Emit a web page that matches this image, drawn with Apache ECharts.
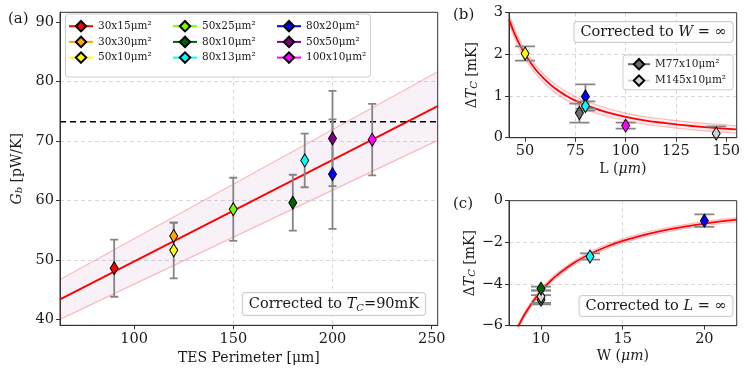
<!DOCTYPE html>
<html><head><meta charset="utf-8">
<script src="https://cdn.jsdelivr.net/npm/echarts@6/dist/echarts.min.js"></script>
<style>html,body{margin:0;padding:0;background:#fff}#chart{width:748px;height:373px}</style>
</head><body><div id="chart"></div>
<script>
// ---------- panel (a) data ----------
const devices = ['30x15μm²','30x30μm²','50x10μm²','50x25μm²','80x10μm²','80x13μm²','80x20μm²','50x50μm²','100x10μm²'];
const perimeter = [90, 120, 120, 150, 180, 186, 200, 200, 220];
const gb = [48.6, 54.0, 51.6, 58.5, 59.6, 66.7, 64.4, 70.4, 70.2];
const gbErr = [4.8, 2.2, 4.7, 5.3, 4.7, 4.5, 9.2, 8.0, 6.0];
const fitP = [62.7, 253];
const fitG = [43.36, 75.83];
const fitGUpper = [46.7, 81.6];
const fitGLower = [40.0, 70.07];
const gbLimit = 73.2;
const aRangeX = [62.7, 253];
const aRangeY = [39, 91.6];
const aTicksX = [100, 150, 200, 250];
const aTicksY = [40, 50, 60, 70, 80, 90];

// ---------- panel (b) data ----------
const bNames = ['M77x10μm²', '50x10μm²', '80x20μm²', '80x13μm²', '100x10μm²', 'M145x10μm²'];
const bL = [77, 50, 80, 80, 100, 145];
const bDT = [0.59, 2.02, 0.99, 0.76, 0.29, 0.10];
const bErr = [0.23, 0.17, 0.29, 0.11, 0.07, 0.17];
const bCurveL = [42, 45, 48, 50, 55, 60, 65, 70, 75, 80, 90, 100, 110, 120, 135, 155];
const bCurveT = [2.84, 2.47, 2.17, 2.0, 1.65, 1.39, 1.18, 1.02, 0.89, 0.78, 0.62, 0.5, 0.41, 0.35, 0.27, 0.2];
const bCurveUpper = [2.95, 2.58, 2.28, 2.11, 1.75, 1.49, 1.28, 1.12, 0.99, 0.88, 0.72, 0.59, 0.5, 0.44, 0.36, 0.285];
const bCurveLower = [2.73, 2.36, 2.06, 1.9, 1.55, 1.29, 1.08, 0.92, 0.79, 0.68, 0.52, 0.41, 0.32, 0.26, 0.18, 0.11];
const bRangeX = [42, 155.2];
const bRangeY = [0, 3.0001];
const bTicksX = [50, 75, 100, 125, 150];
const bTicksY = [0, 1, 2, 3];

// ---------- panel (c) data ----------
const cNames = ['M77x10μm²', 'M145x10μm²', '80x10μm²', '80x13μm²', '80x20μm²'];
const cW = [10, 10, 10, 13, 20];
const cDT = [-4.75, -4.6, -4.22, -2.68, -0.96];
const cErr = [0.22, 0.3, 0.1, 0.15, 0.3];
const cCurveW = [8.4, 8.63, 9, 9.5, 10, 10.5, 11, 12, 13, 14, 15, 16.5, 18, 20, 22];
const cCurveT = [-6.35, -6.0, -5.45, -4.85, -4.33, -3.92, -3.56, -2.99, -2.56, -2.21, -1.93, -1.6, -1.35, -1.1, -0.91];
const cCurveUpper = [-6.25, -5.9, -5.35, -4.75, -4.23, -3.82, -3.46, -2.89, -2.46, -2.11, -1.83, -1.5, -1.25, -1.0, -0.81];
const cCurveLower = [-6.45, -6.1, -5.55, -4.95, -4.43, -4.02, -3.66, -3.09, -2.66, -2.31, -2.03, -1.7, -1.45, -1.2, -1.01];
const cRangeX = [8.04, 21.98];
const cRangeY = [-6, 0];
const cTicksX = [10, 15, 20];
const cTicksY = [-6, -4, -2, 0];

// ---------- layout & styles ----------
const gridBoxes = [
  {left: 60, top: 12.3, width: 377.7, height: 313},
  {left: 509, top: 12.7, width: 227.7, height: 125},
  {left: 509, top: 200.7, width: 227.7, height: 125}
];
const colorOf = {
  '30x15μm²': '#ff0000', '30x30μm²': '#ffa500', '50x10μm²': '#ffff00',
  '50x25μm²': '#7cfc00', '80x10μm²': '#006400', '80x13μm²': '#00ffff',
  '80x20μm²': '#0000ff', '50x50μm²': '#800080', '100x10μm²': '#ff00ff',
  'M77x10μm²': '#6e6e6e', 'M145x10μm²': '#d3d3d3'
};
const FONT = 'DejaVu Serif';
const TXT = '#1a1a1a';
const SPINE = '#333';
const richMath = {
  i: {fontFamily: FONT, fontStyle: 'italic', fontSize: 14, color: TXT},
  s: {fontFamily: FONT, fontStyle: 'italic', fontSize: 10, color: TXT, verticalAlign: 'bottom', lineHeight: 10, padding: [6, 0, 0, 0]}
};
const minus = v => String(v).replace('-', '\u2212');

function makeAxis(gridIndex, range, ticks, extra) {
  return Object.assign({
    type: 'value', gridIndex, min: range[0], max: range[1],
    axisLine: {show: true, onZero: false, lineStyle: {color: SPINE, width: 1}},
    axisTick: {show: true, length: 4, customValues: ticks, lineStyle: {color: SPINE}},
    axisLabel: {customValues: ticks, showMinLabel: true, showMaxLabel: true, hideOverlap: false,
      fontFamily: FONT, fontSize: 14.5, color: TXT, margin: 6, formatter: minus},
    splitLine: {show: true, showMinLine: false, showMaxLine: false,
      lineStyle: {color: '#d4d4d4', type: [4, 3], width: 0.9}},
    nameLocation: 'middle',
    nameTextStyle: {fontFamily: FONT, fontSize: 14, color: TXT, rich: richMath}
  }, extra);
}

function bandSeries(ax, xs, up, lo, fill) {
  return {
    type: 'custom', xAxisIndex: ax, yAxisIndex: ax, clip: true, silent: true, z: 1,
    data: [[xs[0], up[0]]],
    renderItem: (p, api) => {
      const top = xs.map((x, i) => api.coord([x, up[i]]));
      const bot = xs.map((x, i) => api.coord([x, lo[i]])).reverse();
      return {type: 'polygon', shape: {points: top.concat(bot)}, style: {fill}};
    }
  };
}
function lineSeries(ax, xs, ys, color, width, smooth, z, dash) {
  return {
    type: 'line', xAxisIndex: ax, yAxisIndex: ax, silent: true, symbol: 'none', smooth: smooth ? 0.4 : false,
    data: xs.map((x, i) => [x, ys[i]]), z, clip: true, animation: false,
    lineStyle: {color, width, type: dash || 'solid'}, emphasis: {disabled: true}
  };
}
function errSeries(ax, xs, ys, es, capHalf) {
  return {
    type: 'custom', xAxisIndex: ax, yAxisIndex: ax, clip: true, silent: true, z: 3,
    data: xs.map((x, i) => [x, ys[i], es[i]]),
    renderItem: (p, api) => {
      const x = api.value(0), y = api.value(1), e = api.value(2);
      const a = api.coord([x, y + e]), b = api.coord([x, y - e]);
      const st = {stroke: '#858585', lineWidth: 1.8};
      return {type: 'group', children: [
        {type: 'line', shape: {x1: a[0], y1: a[1], x2: b[0], y2: b[1]}, style: st},
        {type: 'line', shape: {x1: a[0] - capHalf, y1: a[1], x2: a[0] + capHalf, y2: a[1]}, style: st},
        {type: 'line', shape: {x1: b[0] - capHalf, y1: b[1], x2: b[0] + capHalf, y2: b[1]}, style: st}
      ]};
    }
  };
}
function markerSeries(ax, name, x, y) {
  return {
    type: 'line', name, xAxisIndex: ax, yAxisIndex: ax, data: [[x, y]], z: 5,
    symbol: 'diamond', symbolSize: [8, 13], showSymbol: true, clip: false, silent: true,
    color: colorOf[name],
    itemStyle: {color: colorOf[name], borderColor: '#000', borderWidth: 1},
    lineStyle: {color: colorOf[name], width: 1.5},
    emphasis: {disabled: true}, animation: false
  };
}

const series = [];
// panel (a)
devices.forEach((d, i) => series.push(markerSeries(0, d, perimeter[i], gb[i])));
series.push(bandSeries(0, fitP, fitGUpper, fitGLower, 'rgba(150,60,150,0.07)'));
series.push(lineSeries(0, fitP, fitGUpper, 'rgba(255,0,0,0.25)', 1.2, false, 2));
series.push(lineSeries(0, fitP, fitGLower, 'rgba(255,0,0,0.25)', 1.2, false, 2));
series.push(lineSeries(0, fitP, fitG, '#ff0000', 1.8, false, 2));
series.push(lineSeries(0, aRangeX, [gbLimit, gbLimit], '#000', 1.5, false, 2, [6, 4]));
series.push(errSeries(0, perimeter, gb, gbErr, 4));
// panel (b)
series.push(bandSeries(1, bCurveL, bCurveUpper, bCurveLower, 'rgba(255,90,130,0.10)'));
series.push(lineSeries(1, bCurveL, bCurveUpper, 'rgba(255,0,0,0.25)', 1.2, true, 2));
series.push(lineSeries(1, bCurveL, bCurveLower, 'rgba(255,0,0,0.25)', 1.2, true, 2));
series.push(lineSeries(1, bCurveL, bCurveT, '#ff0000', 1.8, true, 2));
series.push(errSeries(1, bL, bDT, bErr, 10));
bNames.forEach((n, i) => series.push(markerSeries(1, n, bL[i], bDT[i])));
// panel (c)
series.push(bandSeries(2, cCurveW, cCurveUpper, cCurveLower, 'rgba(255,90,130,0.10)'));
series.push(lineSeries(2, cCurveW, cCurveUpper, 'rgba(255,0,0,0.25)', 1.2, true, 2));
series.push(lineSeries(2, cCurveW, cCurveLower, 'rgba(255,0,0,0.25)', 1.2, true, 2));
series.push(lineSeries(2, cCurveW, cCurveT, '#ff0000', 1.8, true, 2));
series.push(errSeries(2, cW, cDT, cErr, 10));
cNames.forEach((n, i) => series.push(markerSeries(2, n, cW[i], cDT[i])));

const legendBase = {
  orient: 'vertical', top: 20, padding: 0, itemGap: 3.3, itemWidth: 24, itemHeight: 13,
  selectedMode: false, z: 6,
  textStyle: {fontFamily: FONT, fontSize: 10.5, color: TXT}
};
const legends = [
  Object.assign({}, legendBase, {left: 68, data: devices.slice(0, 3)}),
  Object.assign({}, legendBase, {left: 172, data: devices.slice(3, 6)}),
  Object.assign({}, legendBase, {left: 276, data: devices.slice(6, 9)}),
  Object.assign({}, legendBase, {left: 623, top: 55, padding: [3, 7, 3, 4], itemGap: 4, itemWidth: 22,
    backgroundColor: 'rgba(255,255,255,0.85)', borderColor: '#cccccc', borderWidth: 1, borderRadius: 3,
    data: ['M77x10μm²', 'M145x10μm²']})
];

function boxText(cx, cy, text) {
  return {
    type: 'text', x: cx, y: cy, z: 10,
    style: {
      text, fontFamily: FONT, fontSize: 14.5, fill: TXT, align: 'center', verticalAlign: 'middle',
      backgroundColor: 'rgba(255,255,255,0.85)', borderColor: '#cccccc', borderWidth: 1, borderRadius: 3,
      padding: [3, 6, 2, 6],
      rich: {
        i: {fontFamily: FONT, fontStyle: 'italic', fontSize: 14.5, fill: TXT},
        s: {fontFamily: FONT, fontStyle: 'italic', fontSize: 10, fill: TXT, padding: [7, 0, 0, 0]}
      }
    }
  };
}
// plot frames (spines) drawn above everything inside the plots
const frames = gridBoxes.map(g => ({
  type: 'rect', z: 8, silent: true,
  shape: {x: g.left, y: g.top, width: g.width, height: g.height},
  style: {fill: 'none', stroke: SPINE, lineWidth: 1}
}));

const option = {
  animation: false,
  backgroundColor: '#fff',
  grid: gridBoxes.map(g => Object.assign({containLabel: false, outerBoundsMode: 'none'}, g)),
  xAxis: [
    makeAxis(0, aRangeX, aTicksX, {name: 'TES Perimeter [μm]', nameGap: 23}),
    makeAxis(1, bRangeX, bTicksX, {name: 'L ({i|μm})', nameGap: 25}),
    makeAxis(2, cRangeX, cTicksX, {name: 'W ({i|μm})', nameGap: 24})
  ],
  yAxis: [
    makeAxis(0, aRangeY, aTicksY, {name: '{i|G}{s|b} [pW/K]', nameGap: 27}),
    makeAxis(1, bRangeY, bTicksY, {name: 'Δ{i|T}{s|C} [mK]', nameGap: 30}),
    makeAxis(2, cRangeY, cTicksY, {name: 'Δ{i|T}{s|C} [mK]', nameGap: 30})
  ],
  legend: legends,
  graphic: frames.concat([
    {type: 'rect', z: 3, shape: {x: 65.5, y: 14, width: 305, height: 63, r: 3},
      style: {fill: 'rgba(255,255,255,0.9)', stroke: '#cccccc', lineWidth: 1}},
    {type: 'text', x: 8, y: 12, style: {text: '(a)', fontFamily: FONT, fontSize: 15, fill: TXT}},
    {type: 'text', x: 453, y: 8, style: {text: '(b)', fontFamily: FONT, fontSize: 15, fill: TXT}},
    {type: 'text', x: 453, y: 197, style: {text: '(c)', fontFamily: FONT, fontSize: 15, fill: TXT}},
    boxText(334, 304, 'Corrected to {i|T}{s|C}=90mK'),
    boxText(653.5, 32, 'Corrected to {i|W} = ∞'),
    boxText(656, 306, 'Corrected to {i|L} = ∞')
  ]),
  series
};
const chart = echarts.init(document.getElementById('chart'), null, {renderer: 'canvas'});
chart.setOption(option);
</script></body></html>
